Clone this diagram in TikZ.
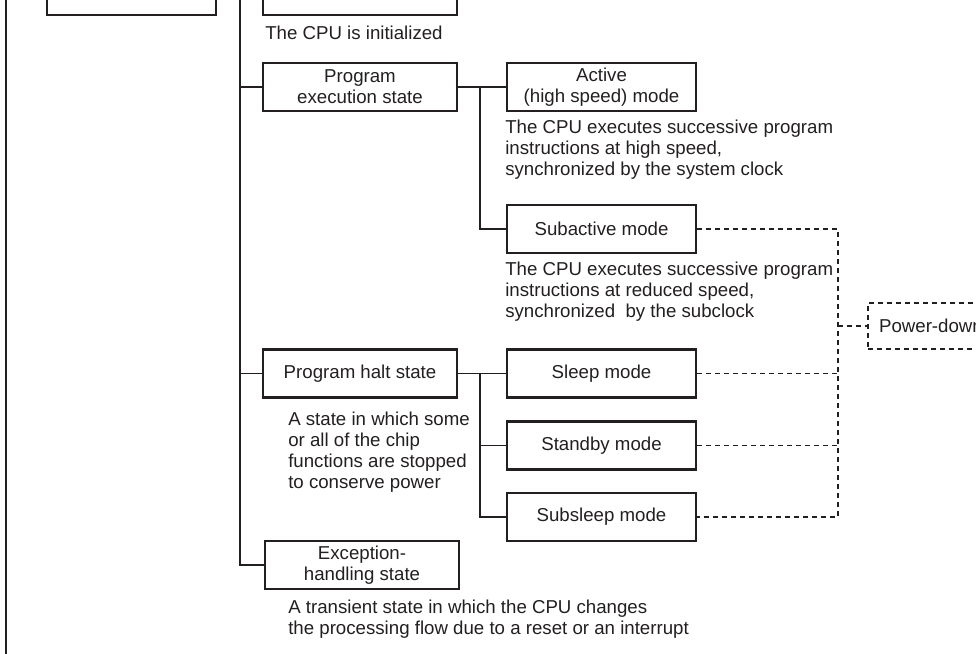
\documentclass[tikz,border=0pt]{standalone}
\usepackage{fontspec}
\setmainfont{Liberation Sans}
\definecolor{ink}{RGB}{35,31,32}
\begin{document}
\begin{tikzpicture}[x=0.75pt,y=-0.75pt,
  every node/.style={font=\fontsize{14}{15.75}\selectfont, text=ink},
  statebox/.style={draw=ink, line width=1.6pt, minimum width=145.5pt,
    minimum height=36pt, inner sep=0pt, align=center},
  modebox/.style={statebox, minimum width=141.75pt},
  note/.style={anchor=base west, inner sep=0pt},
  link/.style={draw=ink, line width=0.8pt},
  pdlink/.style={draw=ink, line width=0.8pt, dash pattern=on 3.75pt off 3pt},
  pdbox/.style={draw=ink, line width=1.6pt, dash pattern=on 3.75pt off 3pt,
    minimum height=34.5pt, inner xsep=8.25pt, inner ysep=0pt, anchor=west}
]
\useasboundingbox (0,0) rectangle (976,654);
\clip (0,0) rectangle (976,654);

% outer frame
\draw[ink, line width=1.5pt] (6,-20) -- (6,680);

% top-level states
\node[statebox, minimum width=126.75pt] (cpu) at (131.5,-9) {};
\node[statebox] (reset) at (360,-9) {};
\node[statebox] (prog) at (360,87) {Program\\execution state};
\node[statebox] (halt) at (360,373.5) {Program halt state};
\node[statebox] (exc) at (362,565) {Exception-\\handling state};

% operating modes
\node[modebox] (active) at (601.5,87) {Active\\(high speed) mode};
\node[modebox] (sub) at (601.5,229) {Subactive mode};
\node[modebox] (sleep) at (601.5,373.5) {Sleep mode};
\node[modebox] (standby) at (601.5,445.5) {Standby mode};
\node[modebox] (subsleep) at (601.5,517) {Subsleep mode};

\node[pdbox] (pd) at (867,326) {Power-down modes};

% descriptions
\node[note] (dreset) at (265,39) {The CPU is initialized};
\node[note] (dactive) at (505,133) {\begin{tabular}[t]{@{}l@{}}The CPU executes successive program\\instructions at high speed,\\synchronized by the system clock\end{tabular}};
\node[note] (dsub) at (505,275) {\begin{tabular}[t]{@{}l@{}}The CPU executes successive program\\instructions at reduced speed,\\synchronized~ by the subclock\end{tabular}};
\node[note] (dhalt) at (288,425) {\begin{tabular}[t]{@{}l@{}}A state in which some\\or all of the chip\\functions are stopped\\to conserve power\end{tabular}};
\node[note] (dexc) at (288,613) {\begin{tabular}[t]{@{}l@{}}A transient state in which the CPU changes\\the processing flow due to a reset or an interrupt\end{tabular}};

% state tree
\coordinate (trunk) at (240,-9);
\draw[link] (cpu.east) -- (reset.west);
\draw[link] (trunk) |- (exc.west);
\draw[link] (trunk |- prog.west) -- (prog.west);
\draw[link] (trunk |- halt.west) -- (halt.west);

\coordinate (jexec) at (480,87);
\draw[link] (prog.east) -- (active.west);
\draw[link] (jexec) |- (sub.west);

\coordinate (jhalt) at (480,373.5);
\draw[link] (halt.east) -- (sleep.west);
\draw[link] (jhalt) |- (subsleep.west);
\draw[link] (jhalt |- standby.west) -- (standby.west);

% power-down grouping
\coordinate (bus) at (838,229);
\draw[pdlink] (sub.east) -- (bus) -- (bus |- subsleep.east) -- (subsleep.east);
\draw[pdlink] (sleep.east) -- (bus |- sleep.east);
\draw[pdlink] (standby.east) -- (bus |- standby.east);
\draw[pdlink] (bus |- pd.west) -- (pd.west);
\end{tikzpicture}
\end{document}
